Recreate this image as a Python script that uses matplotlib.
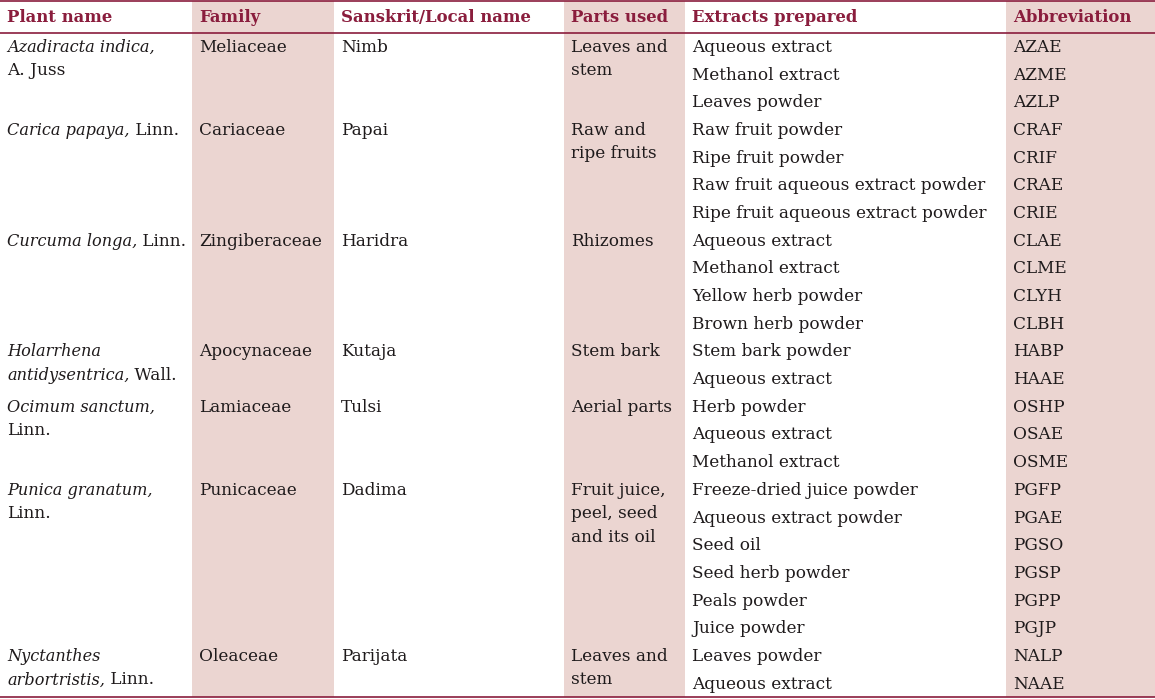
import matplotlib.pyplot as plt
from matplotlib.patches import Rectangle

headers = ["Plant name", "Family", "Sanskrit/Local name", "Parts used",
           "Extracts prepared", "Abbreviation"]

# each line: (italic part, roman part)
plant_names = [
    [("Azadiracta indica,", ""), ("", "A. Juss")],
    [("Carica papaya,", " Linn.")],
    [("Curcuma longa,", " Linn.")],
    [("Holarrhena", ""), ("antidysentrica,", " Wall.")],
    [("Ocimum sanctum,", ""), ("", "Linn.")],
    [("Punica granatum,", ""), ("", "Linn.")],
    [("Nyctanthes", ""), ("arbortristis,", " Linn.")],
]
families = ["Meliaceae", "Cariaceae", "Zingiberaceae", "Apocynaceae",
            "Lamiaceae", "Punicaceae", "Oleaceae"]
local_names = ["Nimb", "Papai", "Haridra", "Kutaja", "Tulsi", "Dadima", "Parijata"]
parts_used = [
    ["Leaves and", "stem"],
    ["Raw and", "ripe fruits"],
    ["Rhizomes"],
    ["Stem bark"],
    ["Aerial parts"],
    ["Fruit juice,", "peel, seed", "and its oil"],
    ["Leaves and", "stem"],
]
extracts = [
    ["Aqueous extract", "Methanol extract", "Leaves powder"],
    ["Raw fruit powder", "Ripe fruit powder", "Raw fruit aqueous extract powder",
     "Ripe fruit aqueous extract powder"],
    ["Aqueous extract", "Methanol extract", "Yellow herb powder", "Brown herb powder"],
    ["Stem bark powder", "Aqueous extract"],
    ["Herb powder", "Aqueous extract", "Methanol extract"],
    ["Freeze-dried juice powder", "Aqueous extract powder", "Seed oil",
     "Seed herb powder", "Peals powder", "Juice powder"],
    ["Leaves powder", "Aqueous extract"],
]
abbreviations = [
    ["AZAE", "AZME", "AZLP"],
    ["CRAF", "CRIF", "CRAE", "CRIE"],
    ["CLAE", "CLME", "CLYH", "CLBH"],
    ["HABP", "HAAE"],
    ["OSHP", "OSAE", "OSME"],
    ["PGFP", "PGAE", "PGSO", "PGSP", "PGPP", "PGJP"],
    ["NALP", "NAAE"],
]

# layout (pixels)
W, H = 1155, 699
col_edges = [0, 192, 334, 564, 685, 1006, 1155]
shaded = [1, 3, 5]
top_y, head_y, bot_y = 1, 32.5, 697
pad = 7
line_gap = 23.5
fs = 12.2
fs_it = 11.6
red = '#8a1d3d'
shade = '#ebd5d1'
txt = '#1e1a1b'
font = 'DejaVu Serif'

fig = plt.figure(figsize=(W / 100, H / 100), dpi=100)
ax = fig.add_axes([0, 0, 1, 1])
ax.set_xlim(0, W)
ax.set_ylim(H, 0)
ax.axis('off')
renderer = fig.canvas.get_renderer()

for c in shaded:
    ax.add_patch(Rectangle((col_edges[c], top_y), col_edges[c + 1] - col_edges[c],
                           bot_y - top_y, color=shade, lw=0, zorder=0))

for y in (top_y, head_y, bot_y):
    ax.plot([0, W], [y, y], color=red, lw=1.2, zorder=2, solid_capstyle='butt')

for i, h in enumerate(headers):
    ax.text(col_edges[i] + pad, 21.5, h, fontsize=11.9, family=font,
            weight='bold', color=red, va='baseline', ha='left')


def put(x, y, s, style='normal'):
    size = fs_it if style == 'italic' else fs
    return ax.text(x, y, s, fontsize=size, family=font, style=style, color=txt,
                   va='baseline', ha='left')


n_rows = sum(len(e) for e in extracts)
row_h = (bot_y - head_y) / n_rows
row = 0
for g in range(len(extracts)):
    yc = head_y + (row + 0.5) * row_h + 5.5
    for k, (it, rm) in enumerate(plant_names[g]):
        x = col_edges[0] + pad
        y = yc + k * line_gap
        if it:
            t = put(x, y, it, 'italic')
            x += t.get_window_extent(renderer).width
        if rm:
            put(x, y, rm)
    for c, lines in enumerate([[families[g]], [local_names[g]], parts_used[g]], start=1):
        for k, s in enumerate(lines):
            put(col_edges[c] + pad, yc + k * line_gap, s)
    for k in range(len(extracts[g])):
        y = head_y + (row + k + 0.5) * row_h + 5.5
        put(col_edges[4] + pad, y, extracts[g][k])
        put(col_edges[5] + pad, y, abbreviations[g][k])
    row += len(extracts[g])

fig.savefig('out.png', dpi=100)
